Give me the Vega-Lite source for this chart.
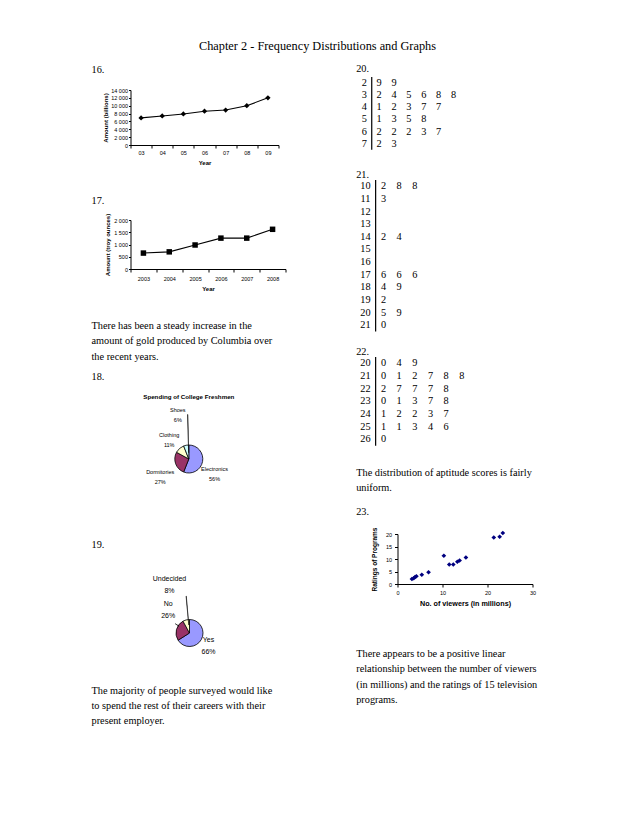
{
  "$schema": "https://vega.github.io/schema/vega-lite/v6.json",
  "padding": {"left": 91.5, "top": 39, "right": 5, "bottom": 5},
  "background": "white",
  "config": {
    "view": {"stroke": null},
    "axis": {"grid": false, "domainColor": "black", "tickColor": "black", "labelColor": "black", "titleColor": "black", "labelFont": "Liberation Sans", "titleFont": "Liberation Sans", "labelFontSize": 5.5, "titleFontSize": 6, "titleFontWeight": "bold", "tickSize": 3, "domainWidth": 1, "tickWidth": 1, "labelFlush": false, "labelOverlap": false, "labelPadding": 2}
  },
  "bounds": "flush",
  "spacing": 9,
  "vconcat": [
    {"width": 374, "height": 14, "data": {"values": [{"t": "Chapter 2 - Frequency Distributions and Graphs"}]},
     "mark": {"type": "text", "font": "Liberation Serif", "fontSize": 12.3, "align": "center", "baseline": "middle", "color": "black"},
     "encoding": {"text": {"field": "t", "type": "nominal"},
       "x": {"datum": 0.5, "type": "quantitative", "scale": {"domain": [0, 1]}, "axis": null},
       "y": {"datum": 0.5, "type": "quantitative", "scale": {"domain": [0, 1]}, "axis": null}}},
    {"hconcat": [
      {"vconcat": [
        {"width": 20, "height": 16, "data": {"values": [{"t": "16."}]},
         "mark": {"type": "text", "font": "Liberation Serif", "fontSize": 10.3, "align": "left", "baseline": "middle", "color": "black"},
         "encoding": {"text": {"field": "t", "type": "nominal"},
           "x": {"datum": 0, "type": "quantitative", "scale": {"domain": [0, 1], "range": [-39, -19]}, "axis": null},
           "y": {"datum": 0.5, "type": "quantitative", "scale": {"domain": [0, 1]}, "axis": null}}},
        {"width": 1, "height": 11.3, "data": {"values": []}, "mark": "point"},
        {"width": 148, "height": 55,
         "data": {"values": [{"year": "03", "amount": 6900}, {"year": "04", "amount": 7400}, {"year": "05", "amount": 7900}, {"year": "06", "amount": 8600}, {"year": "07", "amount": 8900}, {"year": "08", "amount": 10000}, {"year": "09", "amount": 12000}]},
         "encoding": {
           "x": {"field": "year", "type": "ordinal", "scale": {"type": "band", "paddingInner": 0, "paddingOuter": 0}, "axis": {"title": "Year", "labelAngle": 0, "tickBand": "extent", "titlePadding": 4}},
           "y": {"field": "amount", "type": "quantitative", "scale": {"domain": [0, 14000], "nice": false}, "axis": {"title": "Amount (billions)", "values": [0, 2000, 4000, 6000, 8000, 10000, 12000, 14000], "labelExpr": "replace(format(datum.value, ','), ',', ' ')", "tickSize": 2, "labelPadding": 1, "titlePadding": 2}}},
         "layer": [
           {"mark": {"type": "line", "color": "black", "strokeWidth": 1.1}},
           {"mark": {"type": "point", "shape": "diamond", "filled": true, "color": "black", "size": 28, "opacity": 1}}
         ]},
        {"width": 1, "height": 47.7, "data": {"values": []}, "mark": "point"},
        {"width": 20, "height": 16, "data": {"values": [{"t": "17."}]},
         "mark": {"type": "text", "font": "Liberation Serif", "fontSize": 10.3, "align": "left", "baseline": "middle", "color": "black"},
         "encoding": {"text": {"field": "t", "type": "nominal"},
           "x": {"datum": 0, "type": "quantitative", "scale": {"domain": [0, 1], "range": [-39, -19]}, "axis": null},
           "y": {"datum": 0.5, "type": "quantitative", "scale": {"domain": [0, 1]}, "axis": null}}},
        {"width": 1, "height": 11, "data": {"values": []}, "mark": "point"},
        {"width": 155, "height": 49,
         "data": {"values": [{"year": "2003", "amount": 650}, {"year": "2004", "amount": 700}, {"year": "2005", "amount": 980}, {"year": "2006", "amount": 1260}, {"year": "2007", "amount": 1260}, {"year": "2008", "amount": 1620}]},
         "encoding": {
           "x": {"field": "year", "type": "ordinal", "scale": {"type": "band", "paddingInner": 0, "paddingOuter": 0}, "axis": {"title": "Year", "labelAngle": 0, "tickBand": "extent", "labelPadding": 4, "titlePadding": 4}},
           "y": {"field": "amount", "type": "quantitative", "scale": {"domain": [0, 2000], "nice": false}, "axis": {"title": "Amount (troy ounces)", "values": [0, 500, 1000, 1500, 2000], "labelExpr": "replace(format(datum.value, ','), ',', ' ')", "tickSize": 2, "labelPadding": 1, "titlePadding": 3}}},
         "layer": [
           {"mark": {"type": "line", "color": "black", "strokeWidth": 1.1}},
           {"mark": {"type": "square", "filled": true, "color": "black", "size": 30, "opacity": 1}}
         ]},
        {"width": 1, "height": 48.75, "data": {"values": []}, "mark": "point"},
        {"width": 200, "height": 46.5,
         "data": {"values": [{"i": 1, "t": "There has been a steady increase in the"}, {"i": 2, "t": "amount of gold produced by Columbia over"}, {"i": 3, "t": "the recent years."}]},
         "mark": {"type": "text", "font": "Liberation Serif", "fontSize": 10.3, "align": "left", "baseline": "middle", "color": "black"},
         "encoding": {"text": {"field": "t", "type": "nominal"},
           "x": {"datum": 0, "type": "quantitative", "scale": {"domain": [0, 1], "range": [-39, 161]}, "axis": null},
           "y": {"field": "i", "type": "ordinal", "axis": null, "scale": {"type": "point", "padding": 0.5}}}},
        {"width": 1, "height": 3.05, "data": {"values": []}, "mark": "point"},
        {"width": 20, "height": 16, "data": {"values": [{"t": "18."}]},
         "mark": {"type": "text", "font": "Liberation Serif", "fontSize": 10.3, "align": "left", "baseline": "middle", "color": "black"},
         "encoding": {"text": {"field": "t", "type": "nominal"},
           "x": {"datum": 0, "type": "quantitative", "scale": {"domain": [0, 1], "range": [-39, -19]}, "axis": null},
           "y": {"datum": 0.5, "type": "quantitative", "scale": {"domain": [0, 1]}, "axis": null}}},
        {"width": 1, "height": 4, "data": {"values": []}, "mark": "point"},
        {"width": 116.6, "height": 16, "data": {"values": [{"t": "Spending of College Freshmen"}]},
         "mark": {"type": "text", "font": "Liberation Sans", "fontSize": 6.2, "fontWeight": "bold", "align": "center", "baseline": "middle", "color": "black"},
         "encoding": {"text": {"field": "t", "type": "nominal"},
           "x": {"datum": 0.5, "type": "quantitative", "scale": {"domain": [0, 1]}, "axis": null},
           "y": {"datum": 0.5, "type": "quantitative", "scale": {"domain": [0, 1]}, "axis": null}}},
        {"width": 116.6, "height": 108,
         "data": {"values": [
           {"category": "Electronics", "pct": 56, "o": 1, "label": "Electronics\n56%"},
           {"category": "Dormitories", "pct": 27, "o": 2, "label": "Dormitories\n27%"},
           {"category": "Clothing", "pct": 11, "o": 3, "label": "Clothing\n11%"},
           {"category": "Shoes", "pct": 6, "o": 4, "label": "Shoes\n6%"}]},
         "layer": [
           {"mark": {"type": "arc", "radius": 14, "stroke": "black", "strokeWidth": 0.8},
            "encoding": {"theta": {"field": "pct", "type": "quantitative", "stack": true}, "order": {"field": "o", "type": "quantitative"},
              "color": {"field": "category", "type": "nominal", "legend": null, "scale": {"domain": ["Electronics", "Dormitories", "Clothing", "Shoes"], "range": ["#9999FF", "#993366", "#FFFFCC", "#CCFFFF"]}}}},
           {"mark": {"type": "text", "radius": 26.2, "dy": 5.3, "font": "Liberation Sans", "fontSize": 5.5, "lineBreak": "\n", "lineHeight": 10, "align": "center", "baseline": "middle", "color": "black"},
            "encoding": {"theta": {"field": "pct", "type": "quantitative", "stack": true}, "order": {"field": "o", "type": "quantitative"},
              "text": {"condition": {"test": "datum.category === 'Electronics'", "field": "label"}, "value": ""}}},
           {"mark": {"type": "text", "radius": 30.4, "dy": 2.9, "font": "Liberation Sans", "fontSize": 5.5, "lineBreak": "\n", "lineHeight": 10, "align": "center", "baseline": "middle", "color": "black"},
            "encoding": {"theta": {"field": "pct", "type": "quantitative", "stack": true}, "order": {"field": "o", "type": "quantitative"},
              "text": {"condition": {"test": "datum.category === 'Dormitories'", "field": "label"}, "value": ""}}},
           {"mark": {"type": "text", "radius": 26.5, "dx": -2.1, "dy": -4.1, "font": "Liberation Sans", "fontSize": 5.5, "lineBreak": "\n", "lineHeight": 10, "align": "center", "baseline": "middle", "color": "black"},
            "encoding": {"theta": {"field": "pct", "type": "quantitative", "stack": true}, "order": {"field": "o", "type": "quantitative"},
              "text": {"condition": {"test": "datum.category === 'Clothing'", "field": "label"}, "value": ""}}},
           {"mark": {"type": "text", "radius": 43.8, "dx": -2.8, "dy": -5.5, "font": "Liberation Sans", "fontSize": 5.5, "lineBreak": "\n", "lineHeight": 10, "align": "center", "baseline": "middle", "color": "black"},
            "encoding": {"theta": {"field": "pct", "type": "quantitative", "stack": true}, "order": {"field": "o", "type": "quantitative"},
              "text": {"condition": {"test": "datum.category === 'Shoes'", "field": "label"}, "value": ""}}},
           {"data": {"values": [{"leader": "Shoes"}]},
            "mark": {"type": "arc", "theta": 6.255, "theta2": 6.262, "radius": 44.5, "radius2": 6.3, "fill": "black", "stroke": "black", "strokeWidth": 0.5},
            "encoding": {}}
         ]},
        {"width": 1, "height": 23.7, "data": {"values": []}, "mark": "point"},
        {"width": 20, "height": 16, "data": {"values": [{"t": "19."}]},
         "mark": {"type": "text", "font": "Liberation Serif", "fontSize": 10.3, "align": "left", "baseline": "middle", "color": "black"},
         "encoding": {"text": {"field": "t", "type": "nominal"},
           "x": {"datum": 0, "type": "quantitative", "scale": {"domain": [0, 1], "range": [-39, -19]}, "axis": null},
           "y": {"datum": 0.5, "type": "quantitative", "scale": {"domain": [0, 1]}, "axis": null}}},
        {"width": 1, "height": 29.7, "data": {"values": []}, "mark": "point"},
        {"width": 118, "height": 100,
         "data": {"values": [
           {"category": "Yes", "pct": 66, "o": 1, "label": "Yes\n66%"},
           {"category": "No", "pct": 26, "o": 2, "label": "No\n26%"},
           {"category": "Undecided", "pct": 8, "o": 3, "label": "Undecided\n8%"}]},
         "layer": [
           {"mark": {"type": "arc", "radius": 13.5, "stroke": "black", "strokeWidth": 0.8},
            "encoding": {"theta": {"field": "pct", "type": "quantitative", "stack": true}, "order": {"field": "o", "type": "quantitative"},
              "color": {"field": "category", "type": "nominal", "legend": null, "scale": {"domain": ["Yes", "No", "Undecided"], "range": ["#9999FF", "#993366", "#FFFFCC"]}}}},
           {"mark": {"type": "text", "radius": 21.7, "dy": -3.2, "font": "Liberation Sans", "fontSize": 7, "lineBreak": "\n", "lineHeight": 11.6, "align": "center", "baseline": "middle", "color": "black"},
            "encoding": {"theta": {"field": "pct", "type": "quantitative", "stack": true}, "order": {"field": "o", "type": "quantitative"},
              "text": {"condition": {"test": "datum.category === 'Yes'", "field": "label"}, "value": ""}}},
           {"mark": {"type": "text", "radius": 22, "dy": -23.5, "font": "Liberation Sans", "fontSize": 7, "lineBreak": "\n", "lineHeight": 11.6, "align": "center", "baseline": "middle", "color": "black"},
            "encoding": {"theta": {"field": "pct", "type": "quantitative", "stack": true}, "order": {"field": "o", "type": "quantitative"},
              "text": {"condition": {"test": "datum.category === 'No'", "field": "label"}, "value": ""}}},
           {"mark": {"type": "text", "radius": 48.7, "dx": -7.9, "dy": -6.5, "font": "Liberation Sans", "fontSize": 7, "lineBreak": "\n", "lineHeight": 11.6, "align": "center", "baseline": "middle", "color": "black"},
            "encoding": {"theta": {"field": "pct", "type": "quantitative", "stack": true}, "order": {"field": "o", "type": "quantitative"},
              "text": {"condition": {"test": "datum.category === 'Undecided'", "field": "label"}, "value": ""}}},
           {"data": {"values": [{"leader": "Undecided"}]},
            "mark": {"type": "arc", "theta": 6.19, "theta2": 6.197, "radius": 37, "radius2": 8, "fill": "black", "stroke": "black", "strokeWidth": 0.5},
            "encoding": {}},
           {"data": {"values": [{"leader": "No"}]},
            "mark": {"type": "arc", "theta": 5.285, "theta2": 5.292, "radius": 17, "radius2": 12.5, "fill": "black", "stroke": "black", "strokeWidth": 0.5},
            "encoding": {}}
         ]},
        {"width": 200, "height": 45,
         "data": {"values": [{"i": 1, "t": "The majority of people surveyed would like"}, {"i": 2, "t": "to spend the rest of their careers with their"}, {"i": 3, "t": "present employer."}]},
         "mark": {"type": "text", "font": "Liberation Serif", "fontSize": 10.3, "align": "left", "baseline": "middle", "color": "black"},
         "encoding": {"text": {"field": "t", "type": "nominal"},
           "x": {"datum": 0, "type": "quantitative", "scale": {"domain": [0, 1], "range": [-39, 161]}, "axis": null},
           "y": {"field": "i", "type": "ordinal", "axis": null, "scale": {"type": "point", "padding": 0.5}}}}
      ], "spacing": 0, "bounds": "flush"},
      {"vconcat": [
        {"width": 20, "height": 14.2, "data": {"values": [{"t": "20."}]},
         "mark": {"type": "text", "font": "Liberation Serif", "fontSize": 10.3, "align": "left", "baseline": "middle", "color": "black"},
         "encoding": {"text": {"field": "t", "type": "nominal"},
           "x": {"datum": 0, "type": "quantitative", "scale": {"domain": [0, 1], "range": [-41.3, -21.3]}, "axis": null},
           "y": {"datum": 0.5, "type": "quantitative", "scale": {"domain": [0, 1]}, "axis": null}}},
        {"width": 90, "height": 72.8,
         "layer": [
           {"data": {"values": [{"stem": 2}, {"stem": 3}, {"stem": 4}, {"stem": 5}, {"stem": 6}, {"stem": 7}]},
            "mark": {"type": "text", "font": "Liberation Serif", "fontSize": 10.3, "align": "center", "baseline": "middle", "color": "black"},
            "encoding": {"x": {"datum": 0, "type": "quantitative", "scale": {"domain": [0, 6], "range": [-33.2, 56]}, "axis": null},
              "y": {"field": "stem", "type": "ordinal", "axis": null, "scale": {"type": "point", "padding": 0.5, "domain": [2, 3, 4, 5, 6, 7]}},
              "text": {"field": "stem", "type": "nominal"}}},
           {"data": {"values": [
              {"stem": 2, "pos": 1, "leaf": 9}, {"stem": 2, "pos": 2, "leaf": 9},
              {"stem": 3, "pos": 1, "leaf": 2}, {"stem": 3, "pos": 2, "leaf": 4}, {"stem": 3, "pos": 3, "leaf": 5}, {"stem": 3, "pos": 4, "leaf": 6}, {"stem": 3, "pos": 5, "leaf": 8}, {"stem": 3, "pos": 6, "leaf": 8},
              {"stem": 4, "pos": 1, "leaf": 1}, {"stem": 4, "pos": 2, "leaf": 2}, {"stem": 4, "pos": 3, "leaf": 3}, {"stem": 4, "pos": 4, "leaf": 7}, {"stem": 4, "pos": 5, "leaf": 7},
              {"stem": 5, "pos": 1, "leaf": 1}, {"stem": 5, "pos": 2, "leaf": 3}, {"stem": 5, "pos": 3, "leaf": 5}, {"stem": 5, "pos": 4, "leaf": 8},
              {"stem": 6, "pos": 1, "leaf": 2}, {"stem": 6, "pos": 2, "leaf": 2}, {"stem": 6, "pos": 3, "leaf": 2}, {"stem": 6, "pos": 4, "leaf": 3}, {"stem": 6, "pos": 5, "leaf": 7},
              {"stem": 7, "pos": 1, "leaf": 2}, {"stem": 7, "pos": 2, "leaf": 3}]},
            "mark": {"type": "text", "font": "Liberation Serif", "fontSize": 10.3, "align": "center", "baseline": "middle", "color": "black"},
            "encoding": {"x": {"field": "pos", "type": "quantitative", "axis": null},
              "y": {"field": "stem", "type": "ordinal", "axis": null},
              "text": {"field": "leaf", "type": "nominal"}}},
           {"data": {"values": [{}]},
            "mark": {"type": "rule", "color": "black", "strokeWidth": 1.2},
            "encoding": {"x": {"datum": 0.5, "type": "quantitative", "axis": null}}}
         ]},
        {"width": 1, "height": 19.3, "data": {"values": []}, "mark": "point"},
        {"width": 20, "height": 9.4, "data": {"values": [{"t": "21."}]},
         "mark": {"type": "text", "font": "Liberation Serif", "fontSize": 10.3, "align": "left", "baseline": "middle", "color": "black"},
         "encoding": {"text": {"field": "t", "type": "nominal"},
           "x": {"datum": 0, "type": "quantitative", "scale": {"domain": [0, 1], "range": [-41.3, -21.3]}, "axis": null},
           "y": {"datum": 0.5, "type": "quantitative", "scale": {"domain": [0, 1]}, "axis": null}}},
        {"width": 94, "height": 151.6,
         "layer": [
           {"data": {"values": [{"stem": 10}, {"stem": 11}, {"stem": 12}, {"stem": 13}, {"stem": 14}, {"stem": 15}, {"stem": 16}, {"stem": 17}, {"stem": 18}, {"stem": 19}, {"stem": 20}, {"stem": 21}]},
            "mark": {"type": "text", "font": "Liberation Serif", "fontSize": 10.3, "align": "center", "baseline": "middle", "color": "black"},
            "encoding": {"x": {"datum": -0.15, "type": "quantitative", "scale": {"domain": [0, 6], "range": [-29.7, 64.3]}, "axis": null},
              "y": {"field": "stem", "type": "ordinal", "axis": null, "scale": {"type": "point", "padding": 0.5, "domain": [10, 11, 12, 13, 14, 15, 16, 17, 18, 19, 20, 21]}},
              "text": {"field": "stem", "type": "nominal"}}},
           {"data": {"values": [
              {"stem": 10, "pos": 1, "leaf": 2}, {"stem": 10, "pos": 2, "leaf": 8}, {"stem": 10, "pos": 3, "leaf": 8},
              {"stem": 11, "pos": 1, "leaf": 3},
              {"stem": 14, "pos": 1, "leaf": 2}, {"stem": 14, "pos": 2, "leaf": 4},
              {"stem": 17, "pos": 1, "leaf": 6}, {"stem": 17, "pos": 2, "leaf": 6}, {"stem": 17, "pos": 3, "leaf": 6},
              {"stem": 18, "pos": 1, "leaf": 4}, {"stem": 18, "pos": 2, "leaf": 9},
              {"stem": 19, "pos": 1, "leaf": 2},
              {"stem": 20, "pos": 1, "leaf": 5}, {"stem": 20, "pos": 2, "leaf": 9},
              {"stem": 21, "pos": 1, "leaf": 0}]},
            "mark": {"type": "text", "font": "Liberation Serif", "fontSize": 10.3, "align": "center", "baseline": "middle", "color": "black"},
            "encoding": {"x": {"field": "pos", "type": "quantitative", "axis": null},
              "y": {"field": "stem", "type": "ordinal", "axis": null},
              "text": {"field": "leaf", "type": "nominal"}}},
           {"data": {"values": [{}]},
            "mark": {"type": "rule", "color": "black", "strokeWidth": 1.2},
            "encoding": {"x": {"datum": 0.5, "type": "quantitative", "axis": null}}}
         ]},
        {"width": 1, "height": 14, "data": {"values": []}, "mark": "point"},
        {"width": 20, "height": 11, "data": {"values": [{"t": "22."}]},
         "mark": {"type": "text", "font": "Liberation Serif", "fontSize": 10.3, "align": "left", "baseline": "middle", "color": "black"},
         "encoding": {"text": {"field": "t", "type": "nominal"},
           "x": {"datum": 0, "type": "quantitative", "scale": {"domain": [0, 1], "range": [-41.3, -21.3]}, "axis": null},
           "y": {"datum": 0.5, "type": "quantitative", "scale": {"domain": [0, 1]}, "axis": null}}},
        {"width": 94, "height": 88.7,
         "layer": [
           {"data": {"values": [{"stem": 20}, {"stem": 21}, {"stem": 22}, {"stem": 23}, {"stem": 24}, {"stem": 25}, {"stem": 26}]},
            "mark": {"type": "text", "font": "Liberation Serif", "fontSize": 10.3, "align": "center", "baseline": "middle", "color": "black"},
            "encoding": {"x": {"datum": -0.15, "type": "quantitative", "scale": {"domain": [0, 6], "range": [-29.7, 64.3]}, "axis": null},
              "y": {"field": "stem", "type": "ordinal", "axis": null, "scale": {"type": "point", "padding": 0.5, "domain": [20, 21, 22, 23, 24, 25, 26]}},
              "text": {"field": "stem", "type": "nominal"}}},
           {"data": {"values": [
              {"stem": 20, "pos": 1, "leaf": 0}, {"stem": 20, "pos": 2, "leaf": 4}, {"stem": 20, "pos": 3, "leaf": 9},
              {"stem": 21, "pos": 1, "leaf": 0}, {"stem": 21, "pos": 2, "leaf": 1}, {"stem": 21, "pos": 3, "leaf": 2}, {"stem": 21, "pos": 4, "leaf": 7}, {"stem": 21, "pos": 5, "leaf": 8}, {"stem": 21, "pos": 6, "leaf": 8},
              {"stem": 22, "pos": 1, "leaf": 2}, {"stem": 22, "pos": 2, "leaf": 7}, {"stem": 22, "pos": 3, "leaf": 7}, {"stem": 22, "pos": 4, "leaf": 7}, {"stem": 22, "pos": 5, "leaf": 8},
              {"stem": 23, "pos": 1, "leaf": 0}, {"stem": 23, "pos": 2, "leaf": 1}, {"stem": 23, "pos": 3, "leaf": 3}, {"stem": 23, "pos": 4, "leaf": 7}, {"stem": 23, "pos": 5, "leaf": 8},
              {"stem": 24, "pos": 1, "leaf": 1}, {"stem": 24, "pos": 2, "leaf": 2}, {"stem": 24, "pos": 3, "leaf": 2}, {"stem": 24, "pos": 4, "leaf": 3}, {"stem": 24, "pos": 5, "leaf": 7},
              {"stem": 25, "pos": 1, "leaf": 1}, {"stem": 25, "pos": 2, "leaf": 1}, {"stem": 25, "pos": 3, "leaf": 3}, {"stem": 25, "pos": 4, "leaf": 4}, {"stem": 25, "pos": 5, "leaf": 6},
              {"stem": 26, "pos": 1, "leaf": 0}]},
            "mark": {"type": "text", "font": "Liberation Serif", "fontSize": 10.3, "align": "center", "baseline": "middle", "color": "black"},
            "encoding": {"x": {"field": "pos", "type": "quantitative", "axis": null},
              "y": {"field": "stem", "type": "ordinal", "axis": null},
              "text": {"field": "leaf", "type": "nominal"}}},
           {"data": {"values": [{}]},
            "mark": {"type": "rule", "color": "black", "strokeWidth": 1.2},
            "encoding": {"x": {"datum": 0.5, "type": "quantitative", "axis": null}}}
         ]},
        {"width": 1, "height": 18.75, "data": {"values": []}, "mark": "point"},
        {"width": 200, "height": 31,
         "data": {"values": [{"i": 1, "t": "The distribution of aptitude scores is fairly"}, {"i": 2, "t": "uniform."}]},
         "mark": {"type": "text", "font": "Liberation Serif", "fontSize": 10.3, "align": "left", "baseline": "middle", "color": "black"},
         "encoding": {"text": {"field": "t", "type": "nominal"},
           "x": {"datum": 0, "type": "quantitative", "scale": {"domain": [0, 1], "range": [-41.3, 158.7]}, "axis": null},
           "y": {"field": "i", "type": "ordinal", "axis": null, "scale": {"type": "point", "padding": 0.5}}}},
        {"width": 1, "height": 10.95, "data": {"values": []}, "mark": "point"},
        {"width": 20, "height": 10, "data": {"values": [{"t": "23."}]},
         "mark": {"type": "text", "font": "Liberation Serif", "fontSize": 10.3, "align": "left", "baseline": "middle", "color": "black"},
         "encoding": {"text": {"field": "t", "type": "nominal"},
           "x": {"datum": 0, "type": "quantitative", "scale": {"domain": [0, 1], "range": [-41.3, -21.3]}, "axis": null},
           "y": {"datum": 0.5, "type": "quantitative", "scale": {"domain": [0, 1]}, "axis": null}}},
        {"width": 1, "height": 17, "data": {"values": []}, "mark": "point"},
        {"width": 135, "height": 50,
         "data": {"values": [
           {"viewers": 3.2, "rating": 2.0}, {"viewers": 3.6, "rating": 2.3}, {"viewers": 3.9, "rating": 2.8}, {"viewers": 4.2, "rating": 3.1},
           {"viewers": 5.4, "rating": 3.7}, {"viewers": 6.9, "rating": 4.7}, {"viewers": 10.3, "rating": 11.3}, {"viewers": 11.5, "rating": 7.8},
           {"viewers": 12.4, "rating": 7.8}, {"viewers": 13.3, "rating": 8.9}, {"viewers": 13.8, "rating": 9.4}, {"viewers": 15.2, "rating": 10.6},
           {"viewers": 21.4, "rating": 18.6}, {"viewers": 22.7, "rating": 18.9}, {"viewers": 23.4, "rating": 20.4}]},
         "mark": {"type": "point", "shape": "diamond", "filled": true, "color": "#000080", "size": 22, "opacity": 1},
         "encoding": {
           "x": {"field": "viewers", "type": "quantitative", "scale": {"domain": [0, 30], "nice": false}, "axis": {"title": "No. of viewers (in millions)", "values": [0, 10, 20, 30], "labelPadding": 3, "titlePadding": 4, "titleFontSize": 7.2}},
           "y": {"field": "rating", "type": "quantitative", "scale": {"domain": [0, 20], "nice": false}, "axis": {"title": "Ratings of Programs", "values": [0, 5, 10, 15, 20], "labelPadding": 3, "titlePadding": 8, "titleFontSize": 6.5}}}},
        {"width": 1, "height": 61.55, "data": {"values": []}, "mark": "point"},
        {"width": 200, "height": 62,
         "data": {"values": [{"i": 1, "t": "There appears to be a positive linear"}, {"i": 2, "t": "relationship between the number of viewers"}, {"i": 3, "t": "(in millions) and the ratings of 15 television"}, {"i": 4, "t": "programs."}]},
         "mark": {"type": "text", "font": "Liberation Serif", "fontSize": 10.3, "align": "left", "baseline": "middle", "color": "black"},
         "encoding": {"text": {"field": "t", "type": "nominal"},
           "x": {"datum": 0, "type": "quantitative", "scale": {"domain": [0, 1], "range": [-41.3, 158.7]}, "axis": null},
           "y": {"field": "i", "type": "ordinal", "axis": null, "scale": {"type": "point", "padding": 0.5}}}}
      ], "spacing": 0, "bounds": "flush"}
    ], "spacing": 267, "bounds": "flush"}
  ]
}
